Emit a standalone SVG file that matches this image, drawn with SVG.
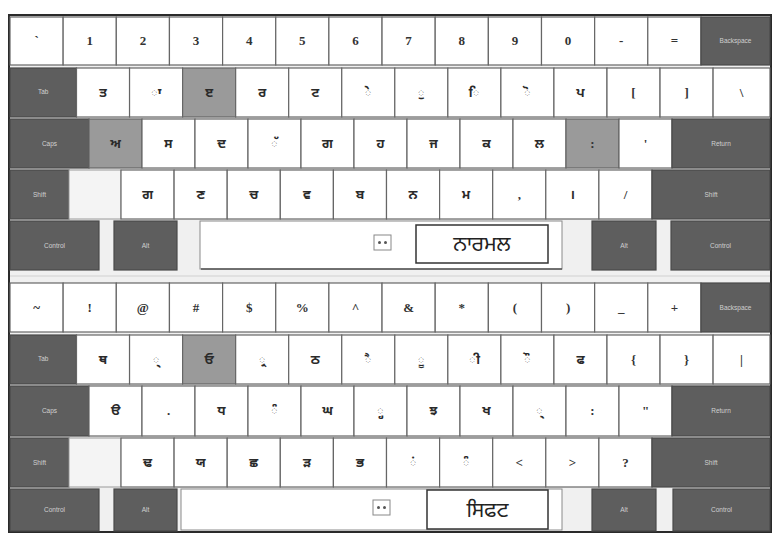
<svg xmlns="http://www.w3.org/2000/svg" width="774" height="548" viewBox="0 0 774 548">
<style>
.k{fill:#fff;stroke:#666;stroke-width:1.2}
.d{fill:#5e5e5e;stroke:#4a4a4a;stroke-width:1.2}
.g{fill:#9a9a9a;stroke:#666;stroke-width:1.2}
.e{fill:#f4f4f4;stroke:#9a9a9a;stroke-width:1}
.t{font-family:"Liberation Serif","DejaVu Serif",serif;font-size:13px;font-weight:bold;fill:#333;text-anchor:middle}
.p{font-family:"Noto Sans Gurmukhi","Lohit Gurmukhi","Noto Sans",sans-serif;font-size:13px;font-weight:bold;fill:#2a2a2a;text-anchor:middle}
.s{font-family:"Liberation Sans",Arial,sans-serif;font-size:6.5px;fill:#d0d0d0;text-anchor:middle}
.b{font-family:"Noto Sans Gurmukhi","Lohit Gurmukhi","Noto Sans",sans-serif;font-size:21px;fill:#222;text-anchor:middle}
</style>
<rect x="0" y="0" width="774" height="548" fill="#fff"/>
<rect x="9" y="15" width="762" height="517" fill="#f0f0f0" stroke="#2a2a2a" stroke-width="2"/>
<line x1="10" y1="276" x2="770" y2="276" stroke="#d0d0d0" stroke-width="1"/>

<!-- TOP KEYBOARD -->
<g id="top-row1">
<rect class="k" x="10" y="17" width="53.15" height="48"/><text class="t" x="36.6" y="45">`</text>
<rect class="k" x="63.15" y="17" width="53.15" height="48"/><text class="t" x="89.7" y="45">1</text>
<rect class="k" x="116.3" y="17" width="53.15" height="48"/><text class="t" x="142.9" y="45">2</text>
<rect class="k" x="169.45" y="17" width="53.15" height="48"/><text class="t" x="196" y="45">3</text>
<rect class="k" x="222.6" y="17" width="53.15" height="48"/><text class="t" x="249.2" y="45">4</text>
<rect class="k" x="275.75" y="17" width="53.15" height="48"/><text class="t" x="302.3" y="45">5</text>
<rect class="k" x="328.9" y="17" width="53.15" height="48"/><text class="t" x="355.5" y="45">6</text>
<rect class="k" x="382.05" y="17" width="53.15" height="48"/><text class="t" x="408.6" y="45">7</text>
<rect class="k" x="435.2" y="17" width="53.15" height="48"/><text class="t" x="461.8" y="45">8</text>
<rect class="k" x="488.35" y="17" width="53.15" height="48"/><text class="t" x="514.9" y="45">9</text>
<rect class="k" x="541.5" y="17" width="53.15" height="48"/><text class="t" x="568.1" y="45">0</text>
<rect class="k" x="594.65" y="17" width="53.15" height="48"/><text class="t" x="621.2" y="45">-</text>
<rect class="k" x="647.8" y="17" width="53.15" height="48"/><text class="t" x="674.4" y="45">=</text>
<rect class="d" x="701" y="17" width="69" height="48"/><text class="s" x="735.5" y="43">Backspace</text>
</g>
<g id="top-row2">
<rect class="d" x="10" y="68" width="66.5" height="49"/><text class="s" x="43.2" y="94">Tab</text>
<rect class="k" x="76.5" y="68" width="53.05" height="49"/><text class="p" x="103" y="97">ਤ</text>
<rect class="k" x="129.55" y="68" width="53.05" height="49"/><text class="p" x="156.1" y="97">ਾ</text>
<rect class="g" x="182.6" y="68" width="53.05" height="49"/><text class="p" x="209.1" y="97">ੲ</text>
<rect class="k" x="235.65" y="68" width="53.05" height="49"/><text class="p" x="262.2" y="97">ਰ</text>
<rect class="k" x="288.7" y="68" width="53.05" height="49"/><text class="p" x="315.2" y="97">ਟ</text>
<rect class="k" x="341.75" y="68" width="53.05" height="49"/><text class="p" x="368.3" y="97">ੇ</text>
<rect class="k" x="394.8" y="68" width="53.05" height="49"/><text class="p" x="421.3" y="97">ੁ</text>
<rect class="k" x="447.85" y="68" width="53.05" height="49"/><text class="p" x="474.4" y="97">ਿ</text>
<rect class="k" x="500.9" y="68" width="53.05" height="49"/><text class="p" x="527.4" y="97">ੋ</text>
<rect class="k" x="553.95" y="68" width="53.05" height="49"/><text class="p" x="580.5" y="97">ਪ</text>
<rect class="k" x="607" y="68" width="53.05" height="49"/><text class="t" x="633.5" y="97">[</text>
<rect class="k" x="660.05" y="68" width="53.05" height="49"/><text class="t" x="686.6" y="97">]</text>
<rect class="k" x="713.1" y="68" width="56.9" height="49"/><text class="t" x="741.5" y="97">\</text>
</g>
<g id="top-row3">
<rect class="d" x="10" y="119" width="79" height="49"/><text class="s" x="49.5" y="146">Caps</text>
<rect class="g" x="89" y="119" width="53" height="49"/><text class="p" x="115.5" y="148">ਅ</text>
<rect class="k" x="142" y="119" width="53" height="49"/><text class="p" x="168.5" y="148">ਸ</text>
<rect class="k" x="195" y="119" width="53" height="49"/><text class="p" x="221.5" y="148">ਦ</text>
<rect class="k" x="248" y="119" width="53" height="49"/><text class="p" x="274.5" y="148">ੱ</text>
<rect class="k" x="301" y="119" width="53" height="49"/><text class="p" x="327.5" y="148">ਗ</text>
<rect class="k" x="354" y="119" width="53" height="49"/><text class="p" x="380.5" y="148">ਹ</text>
<rect class="k" x="407" y="119" width="53" height="49"/><text class="p" x="433.5" y="148">ਜ</text>
<rect class="k" x="460" y="119" width="53" height="49"/><text class="p" x="486.5" y="148">ਕ</text>
<rect class="k" x="513" y="119" width="53" height="49"/><text class="p" x="539.5" y="148">ਲ</text>
<rect class="g" x="566" y="119" width="53" height="49"/><text class="t" x="592.5" y="148">:</text>
<rect class="k" x="619" y="119" width="53" height="49"/><text class="t" x="645.5" y="148">'</text>
<rect class="d" x="672" y="119" width="98" height="49"/><text class="s" x="721" y="146">Return</text>
</g>
<g id="top-row4">
<rect class="d" x="10" y="170" width="59" height="49"/><text class="s" x="39.5" y="197">Shift</text>
<rect class="e" x="69" y="170" width="52" height="49"/>
<rect class="k" x="121" y="170" width="53.1" height="49"/><text class="p" x="147.6" y="199">ਗ</text>
<rect class="k" x="174.1" y="170" width="53.1" height="49"/><text class="p" x="200.7" y="199">ਣ</text>
<rect class="k" x="227.2" y="170" width="53.1" height="49"/><text class="p" x="253.8" y="199">ਚ</text>
<rect class="k" x="280.3" y="170" width="53.1" height="49"/><text class="p" x="306.9" y="199">ਵ</text>
<rect class="k" x="333.4" y="170" width="53.1" height="49"/><text class="p" x="360" y="199">ਬ</text>
<rect class="k" x="386.5" y="170" width="53.1" height="49"/><text class="p" x="413.1" y="199">ਨ</text>
<rect class="k" x="439.6" y="170" width="53.1" height="49"/><text class="p" x="466.2" y="199">ਮ</text>
<rect class="k" x="492.7" y="170" width="53.1" height="49"/><text class="t" x="519.3" y="199">,</text>
<rect class="k" x="545.8" y="170" width="53.1" height="49"/><text class="p" x="572.4" y="199">।</text>
<rect class="k" x="598.9" y="170" width="53.1" height="49"/><text class="t" x="625.5" y="199">/</text>
<rect class="d" x="652" y="170" width="118" height="49"/><text class="s" x="711" y="197">Shift</text>
</g>
<g id="top-row5">
<rect class="d" x="10" y="221" width="89" height="49"/><text class="s" x="54.5" y="248">Control</text>
<rect class="d" x="114" y="221" width="63" height="49"/><text class="s" x="145.5" y="248">Alt</text>
<rect x="200" y="221" width="362" height="48" fill="#fff" stroke="#8a8a8a" stroke-width="1"/>
<line x1="201" y1="269" x2="562" y2="269" stroke="#555" stroke-width="1.5"/>
<rect x="374" y="235" width="17" height="15" fill="#fff" stroke="#888" stroke-width="1"/>
<circle cx="379.5" cy="242.5" r="1.5" fill="#555"/><circle cx="385.5" cy="242.5" r="1.5" fill="#555"/>
<rect x="416" y="225" width="132" height="38" fill="#fff" stroke="#333" stroke-width="1.5"/>
<text class="b" x="482" y="251">ਨਾਰਮਲ</text>
<rect class="d" x="592" y="221" width="64" height="49"/><text class="s" x="624" y="248">Alt</text>
<rect class="d" x="671" y="221" width="99" height="49"/><text class="s" x="720.5" y="248">Control</text>
</g>

<!-- BOTTOM KEYBOARD -->
<g id="bot-row1">
<rect class="k" x="10" y="283" width="53.15" height="49"/><text class="t" x="36.6" y="312">~</text>
<rect class="k" x="63.15" y="283" width="53.15" height="49"/><text class="t" x="89.7" y="312">!</text>
<rect class="k" x="116.3" y="283" width="53.15" height="49"/><text class="t" x="142.9" y="312">@</text>
<rect class="k" x="169.45" y="283" width="53.15" height="49"/><text class="t" x="196" y="312">#</text>
<rect class="k" x="222.6" y="283" width="53.15" height="49"/><text class="t" x="249.2" y="312">$</text>
<rect class="k" x="275.75" y="283" width="53.15" height="49"/><text class="t" x="302.3" y="312">%</text>
<rect class="k" x="328.9" y="283" width="53.15" height="49"/><text class="t" x="355.5" y="312">^</text>
<rect class="k" x="382.05" y="283" width="53.15" height="49"/><text class="t" x="408.6" y="312">&amp;</text>
<rect class="k" x="435.2" y="283" width="53.15" height="49"/><text class="t" x="461.8" y="312">*</text>
<rect class="k" x="488.35" y="283" width="53.15" height="49"/><text class="t" x="514.9" y="312">(</text>
<rect class="k" x="541.5" y="283" width="53.15" height="49"/><text class="t" x="568.1" y="312">)</text>
<rect class="k" x="594.65" y="283" width="53.15" height="49"/><text class="t" x="621.2" y="312">_</text>
<rect class="k" x="647.8" y="283" width="53.15" height="49"/><text class="t" x="674.4" y="312">+</text>
<rect class="d" x="701" y="283" width="69" height="49"/><text class="s" x="735.5" y="310">Backspace</text>
</g>
<g id="bot-row2">
<rect class="d" x="10" y="335" width="66.5" height="49"/><text class="s" x="43.2" y="361">Tab</text>
<rect class="k" x="76.5" y="335" width="53.05" height="49"/><text class="p" x="103" y="364">ਥ</text>
<rect class="k" x="129.55" y="335" width="53.05" height="49"/><text class="p" x="156.1" y="364">੍</text>
<rect class="g" x="182.6" y="335" width="53.05" height="49"/><text class="p" x="209.1" y="364">ਓ</text>
<rect class="k" x="235.65" y="335" width="53.05" height="49"/><text class="p" x="262.2" y="364">੍ਰ</text>
<rect class="k" x="288.7" y="335" width="53.05" height="49"/><text class="p" x="315.2" y="364">ਠ</text>
<rect class="k" x="341.75" y="335" width="53.05" height="49"/><text class="p" x="368.3" y="364">ੈ</text>
<rect class="k" x="394.8" y="335" width="53.05" height="49"/><text class="p" x="421.3" y="364">ੂ</text>
<rect class="k" x="447.85" y="335" width="53.05" height="49"/><text class="p" x="474.4" y="364">ੀ</text>
<rect class="k" x="500.9" y="335" width="53.05" height="49"/><text class="p" x="527.4" y="364">ੌ</text>
<rect class="k" x="553.95" y="335" width="53.05" height="49"/><text class="p" x="580.5" y="364">ਫ</text>
<rect class="k" x="607" y="335" width="53.05" height="49"/><text class="t" x="633.5" y="364">{</text>
<rect class="k" x="660.05" y="335" width="53.05" height="49"/><text class="t" x="686.6" y="364">}</text>
<rect class="k" x="713.1" y="335" width="56.9" height="49"/><text class="t" x="741.5" y="364">|</text>
</g>
<g id="bot-row3">
<rect class="d" x="10" y="386" width="79" height="50"/><text class="s" x="49.5" y="413">Caps</text>
<rect class="k" x="89" y="386" width="53" height="50"/><text class="p" x="115.5" y="415">ੳ</text>
<rect class="k" x="142" y="386" width="53" height="50"/><text class="t" x="168.5" y="415">.</text>
<rect class="k" x="195" y="386" width="53" height="50"/><text class="p" x="221.5" y="415">ਧ</text>
<rect class="k" x="248" y="386" width="53" height="50"/><text class="p" x="274.5" y="415">ੰ</text>
<rect class="k" x="301" y="386" width="53" height="50"/><text class="p" x="327.5" y="415">ਘ</text>
<rect class="k" x="354" y="386" width="53" height="50"/><text class="p" x="380.5" y="415">੍ਹ</text>
<rect class="k" x="407" y="386" width="53" height="50"/><text class="p" x="433.5" y="415">ਝ</text>
<rect class="k" x="460" y="386" width="53" height="50"/><text class="p" x="486.5" y="415">ਖ</text>
<rect class="k" x="513" y="386" width="53" height="50"/><text class="p" x="539.5" y="415">੍</text>
<rect class="k" x="566" y="386" width="53" height="50"/><text class="t" x="592.5" y="415">:</text>
<rect class="k" x="619" y="386" width="53" height="50"/><text class="t" x="645.5" y="415">"</text>
<rect class="d" x="672" y="386" width="98" height="50"/><text class="s" x="721" y="413">Return</text>
</g>
<g id="bot-row4">
<rect class="d" x="10" y="438" width="59" height="49"/><text class="s" x="39.5" y="465">Shift</text>
<rect class="e" x="69" y="438" width="52" height="49"/>
<rect class="k" x="121" y="438" width="53.1" height="49"/><text class="p" x="147.6" y="467">ਢ</text>
<rect class="k" x="174.1" y="438" width="53.1" height="49"/><text class="p" x="200.7" y="467">ਯ</text>
<rect class="k" x="227.2" y="438" width="53.1" height="49"/><text class="p" x="253.8" y="467">ਛ</text>
<rect class="k" x="280.3" y="438" width="53.1" height="49"/><text class="p" x="306.9" y="467">ੜ</text>
<rect class="k" x="333.4" y="438" width="53.1" height="49"/><text class="p" x="360" y="467">ਭ</text>
<rect class="k" x="386.5" y="438" width="53.1" height="49"/><text class="p" x="413.1" y="467">ਂ</text>
<rect class="k" x="439.6" y="438" width="53.1" height="49"/><text class="p" x="466.2" y="467">ੰ</text>
<rect class="k" x="492.7" y="438" width="53.1" height="49"/><text class="t" x="519.3" y="467">&lt;</text>
<rect class="k" x="545.8" y="438" width="53.1" height="49"/><text class="t" x="572.4" y="467">&gt;</text>
<rect class="k" x="598.9" y="438" width="53.1" height="49"/><text class="t" x="625.5" y="467">?</text>
<rect class="d" x="652" y="438" width="118" height="49"/><text class="s" x="711" y="465">Shift</text>
</g>
<g id="bot-row5">
<rect class="d" x="10" y="489" width="89" height="42"/><text class="s" x="54.5" y="512">Control</text>
<rect class="d" x="114" y="489" width="63" height="42"/><text class="s" x="145.5" y="512">Alt</text>
<rect x="181" y="489" width="381" height="41" fill="#fff" stroke="#8a8a8a" stroke-width="1"/>
<rect x="373" y="500" width="17" height="15" fill="#fff" stroke="#888" stroke-width="1"/>
<circle cx="378.5" cy="507.5" r="1.5" fill="#555"/><circle cx="384.5" cy="507.5" r="1.5" fill="#555"/>
<rect x="427" y="490" width="121" height="39" fill="#fff" stroke="#333" stroke-width="1.5"/>
<text class="b" x="487.5" y="517">ਸਿਫਟ</text>
<rect class="d" x="592" y="489" width="64" height="42"/><text class="s" x="624" y="512">Alt</text>
<rect class="d" x="673" y="489" width="97" height="42"/><text class="s" x="721.5" y="512">Control</text>
</g>
</svg>
